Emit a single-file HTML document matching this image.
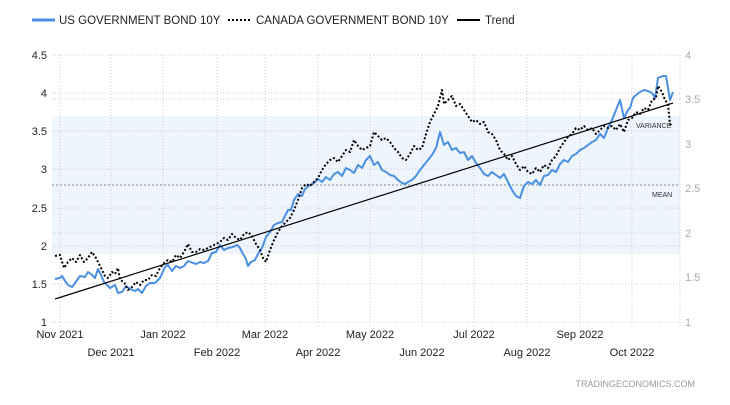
<!DOCTYPE html>
<html><head><style>
body{margin:0;background:#fff;}
svg text{font-family:"Liberation Sans",sans-serif;}
</style></head><body>
<svg width="730" height="400" xmlns="http://www.w3.org/2000/svg">
<rect width="730" height="400" fill="#fff"/>
<!-- legend -->
<line x1="32" y1="20" x2="55" y2="20" stroke="#4a90e2" stroke-width="3"/>
<text x="59" y="24" font-size="11.5" fill="#222">US GOVERNMENT BOND 10Y</text>
<line x1="228" y1="20" x2="250" y2="20" stroke="#000" stroke-width="2" stroke-dasharray="2,2"/>
<text x="256" y="24" font-size="11.5" fill="#222">CANADA GOVERNMENT BOND 10Y</text>
<line x1="457" y1="20" x2="480" y2="20" stroke="#000" stroke-width="2"/>
<text x="485" y="24" font-size="11.5" fill="#222">Trend</text>
<!-- band -->
<rect x="52" y="116" width="628" height="138" fill="#eef5fd"/>
<line x1="52" y1="185" x2="680" y2="185" stroke="#666" stroke-dasharray="2,2" stroke-width="0.8"/>
<text x="652" y="197" font-size="7" fill="#333">MEAN</text>
<text x="636" y="128" font-size="7" fill="#333">VARIANCE</text>
<!-- grid -->
<g stroke="#ccc" stroke-dasharray="1,2" stroke-width="1">
<line x1="52" y1="55" x2="680" y2="55"/><line x1="52" y1="93" x2="680" y2="93"/><line x1="52" y1="131" x2="680" y2="131"/><line x1="52" y1="169" x2="680" y2="169"/><line x1="52" y1="208" x2="680" y2="208"/><line x1="52" y1="246" x2="680" y2="246"/><line x1="52" y1="284" x2="680" y2="284"/><line x1="52" y1="322" x2="680" y2="322"/>
<line x1="52" y1="99" x2="680" y2="99"/><line x1="52" y1="233" x2="680" y2="233"/>
<line x1="60" y1="55" x2="60" y2="327"/><line x1="111" y1="55" x2="111" y2="327"/><line x1="163" y1="55" x2="163" y2="327"/><line x1="217" y1="55" x2="217" y2="327"/><line x1="265" y1="55" x2="265" y2="327"/><line x1="318" y1="55" x2="318" y2="327"/><line x1="370" y1="55" x2="370" y2="327"/><line x1="422" y1="55" x2="422" y2="327"/><line x1="474" y1="55" x2="474" y2="327"/><line x1="527" y1="55" x2="527" y2="327"/><line x1="580" y1="55" x2="580" y2="327"/><line x1="632" y1="55" x2="632" y2="327"/><line x1="680" y1="55" x2="680" y2="327"/>
</g>
<!-- left labels -->
<g font-size="11" fill="#222" text-anchor="end">
<text x="47" y="59">4.5</text><text x="47" y="97">4</text><text x="47" y="135">3.5</text><text x="47" y="173">3</text><text x="47" y="212">2.5</text><text x="47" y="250">2</text><text x="47" y="288">1.5</text><text x="47" y="326">1</text>
</g>
<g font-size="11" fill="#aaa">
<text x="685" y="59">4</text><text x="685" y="103">3.5</text><text x="685" y="148">3</text><text x="685" y="192">2.5</text><text x="685" y="237">2</text><text x="685" y="281">1.5</text><text x="685" y="326">1</text>
</g>
<g font-size="11" fill="#222" text-anchor="middle">
<text x="60" y="338">Nov 2021</text><text x="163" y="338">Jan 2022</text><text x="265" y="338">Mar 2022</text><text x="370" y="338">May 2022</text><text x="474" y="338">Jul 2022</text><text x="580" y="338">Sep 2022</text>
<text x="111" y="356">Dec 2021</text><text x="217" y="356">Feb 2022</text><text x="318" y="356">Apr 2022</text><text x="422" y="356">Jun 2022</text><text x="527" y="356">Aug 2022</text><text x="632" y="356">Oct 2022</text>
</g>
<text x="695" y="387" font-size="9" fill="#999" text-anchor="end">TRADINGECONOMICS.COM</text>
<!-- US -->
<polyline fill="none" stroke="#4a90e2" stroke-width="2" stroke-linejoin="round" points="55,279 60,278 62,276 65,281 68,285 72,287 75,283 80,276 85,277 88,272 92,275 95,278 98,269 101,275 104,282 110,288 115,285 118,293 122,292 126,286 130,289 135,291 138,289 142,293 146,286 150,283 155,283 160,278 165,267 168,265 172,271 176,266 180,268 184,266 188,261 193,263 196,264 200,262 204,263 208,261 212,253 216,252 220,245 224,250 228,248 233,247 237,245 240,248 243,254 246,259 248,266 251,262 255,260 258,254 262,248 266,237 270,232 274,225 278,223 282,222 285,216 288,210 291,210 294,200 298,194 302,196 305,189 310,185 314,183 318,179 322,182 326,177 330,180 334,174 338,172 342,176 346,168 350,170 354,173 358,165 362,168 366,160 370,156 374,165 378,162 382,170 386,172 390,175 394,176 398,180 402,183 405,184 408,182 412,180 416,176 420,170 424,165 428,160 432,155 436,148 440,132 444,145 448,142 452,150 456,148 460,153 464,152 468,160 472,156 476,163 480,168 484,174 488,176 492,172 496,175 500,178 504,174 508,182 512,190 516,196 520,198 524,186 528,182 532,184 536,180 540,185 544,176 548,175 552,170 556,172 560,164 564,160 568,162 572,156 576,154 580,150 584,148 588,145 592,142 596,140 600,134 604,138 608,128 612,120 616,110 620,100 624,118 628,110 630,108 633,98 636,95 640,92 644,90 648,91 652,93 655,98 658,78 663,76 666,76 670,100 673,92"/>
<!-- Canada -->
<polyline fill="none" stroke="#000" stroke-width="2" stroke-dasharray="2,2" stroke-linejoin="round" points="55,256 60,255 64,268 68,262 72,258 76,262 80,255 84,262 88,258 92,252 96,258 99,264 102,270 105,276 108,278 112,272 115,274 118,268 120,280 124,282 128,290 132,287 136,282 140,285 144,280 148,280 152,275 156,276 160,268 164,263 168,260 172,262 176,255 180,258 184,252 188,244 192,252 196,252 200,249 204,250 208,248 212,246 216,244 220,242 224,238 228,240 232,234 236,238 240,240 244,234 248,232 252,236 256,244 260,250 263,258 266,262 270,250 274,240 278,232 282,226 286,222 290,218 294,210 298,200 302,188 306,184 310,186 314,182 318,178 322,170 326,164 330,160 334,158 338,162 342,156 346,150 350,152 354,140 358,146 362,150 366,148 370,146 374,132 378,136 382,140 386,138 390,142 394,148 398,152 402,158 406,160 410,154 414,146 418,150 422,148 426,134 430,122 434,114 438,106 442,90 444,104 448,100 452,96 456,106 460,104 464,110 468,116 472,122 476,120 480,124 484,122 488,132 492,134 496,140 500,150 504,154 508,160 512,156 516,164 520,170 524,166 528,172 532,174 536,168 540,172 544,165 548,168 552,160 556,156 560,148 564,142 568,137 572,134 576,128 580,130 584,126 588,130 592,128 596,134 600,130 604,126 608,128 612,126 616,130 620,124 624,132 628,120 632,118 636,112 640,114 644,108 648,110 652,100 656,98 658,86 662,92 665,100 668,104 670,124 672,126"/>
<!-- trend -->
<line x1="55" y1="299" x2="673" y2="103" stroke="#000" stroke-width="1.2"/>
</svg>
</body></html>
